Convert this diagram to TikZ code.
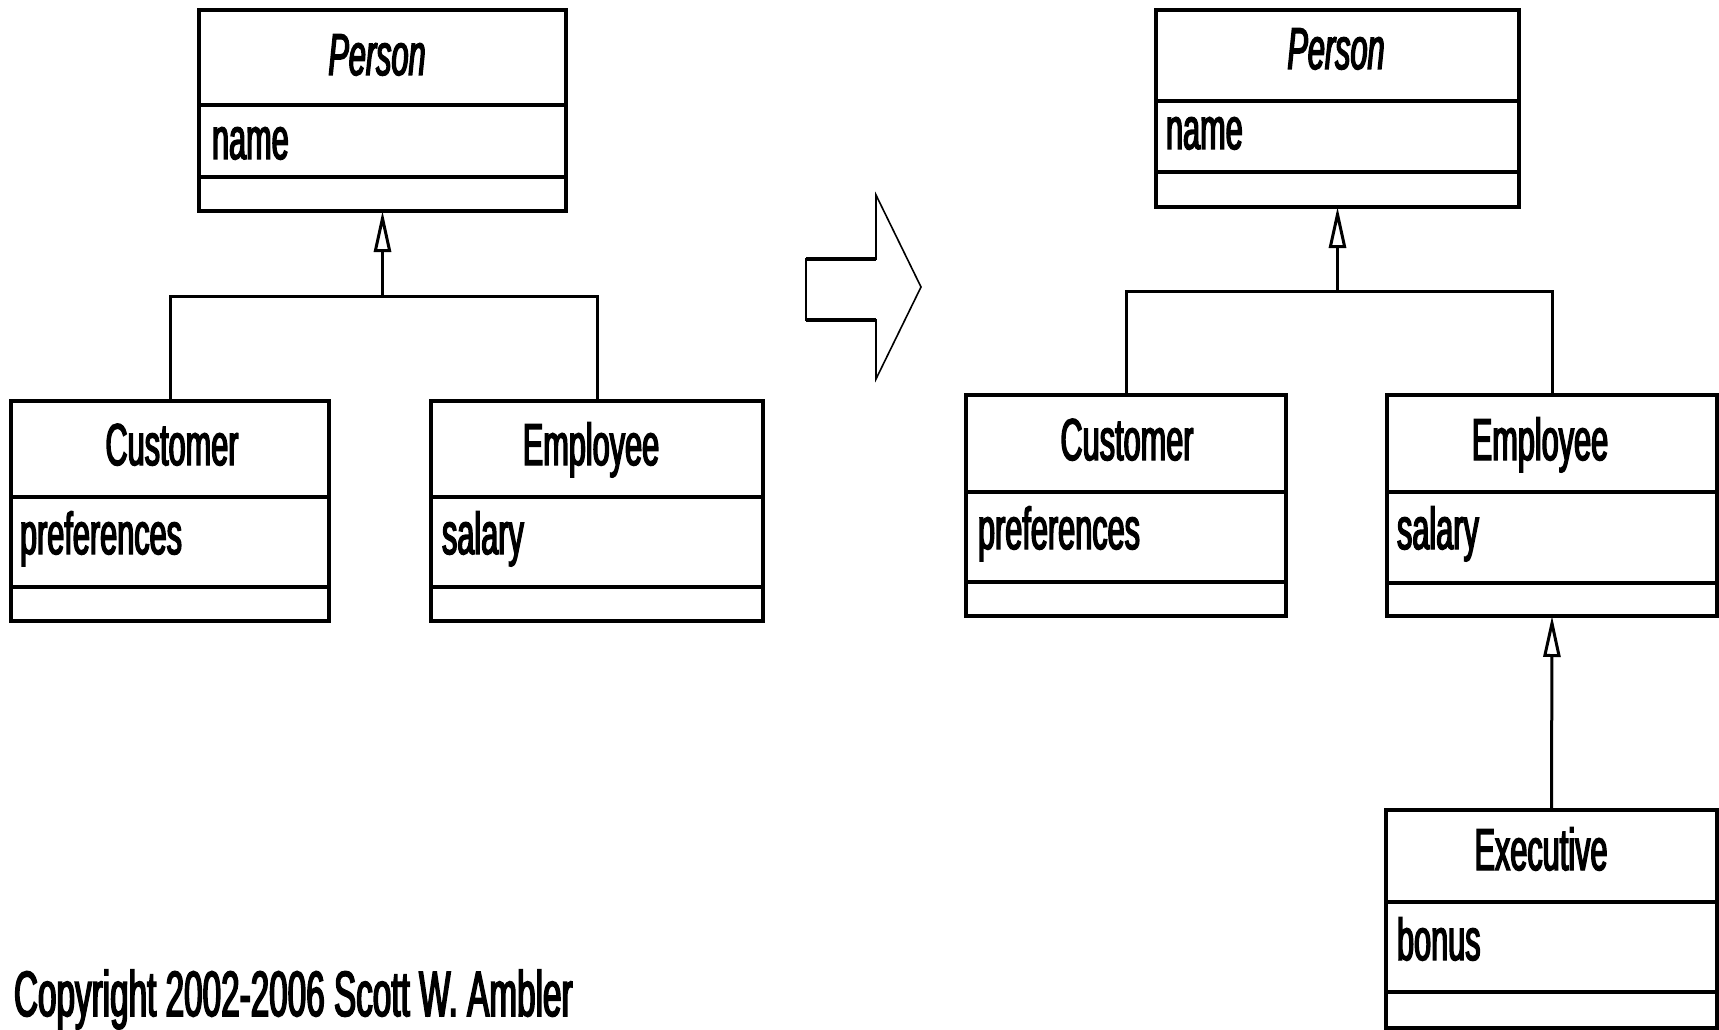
\documentclass[tikz,border=0pt]{standalone}
\usepackage{fontspec}
\newfontfamily\umlfont[FakeStretch=0.52, FakeBold=2.5]{Liberation Sans}
\newfontfamily\copyfont[FakeStretch=0.52, FakeBold=2.5]{Liberation Sans}
\usetikzlibrary{arrows.meta}
\newcommand\umlclassbox[7]{%
  \node[classbox, minimum width=#4pt-#2pt, minimum height=#5pt-#3pt] (#1) at (#2,#3) {};
  \draw[boxline] (#2,#6) -- (#4,#6);
  \draw[boxline] (#2,#7) -- (#4,#7);
}
\begin{document}
\begin{tikzpicture}[x=1pt,y=-1pt,
  boxline/.style={line width=3.8pt},
  classbox/.style={draw, line width=3.8pt, inner sep=0pt, outer sep=0pt, anchor=north west},
  conn/.style={line width=3pt},
  gen/.style={line width=3pt, -{Triangle[open, length=41pt, width=17pt]}},
  umltitle/.style={inner sep=0pt, outer sep=0pt, anchor=base, font=\umlfont\fontsize{59}{60}\selectfont},
  umlattr/.style={inner sep=0pt, outer sep=0pt, anchor=base west, font=\umlfont\fontsize{59}{60}\selectfont}]
\useasboundingbox (0,0) rectangle (1719,1030);

% left diagram
\umlclassbox{lperson}{199}{10}{566}{211}{105}{177}
\umlclassbox{lcust}{11}{401}{329}{621}{497}{587}
\umlclassbox{lemp}{431}{401}{763}{621}{497}{587}
\node[umltitle] (lpersonT) at (377,75) {\itshape Person};
\node[umlattr] (lpersonA) at (212,159) {name};
\node[umltitle] (lcustT) at (172,465) {Customer};
\node[umlattr] (lcustA) at (20,554) {preferences};
\node[umltitle] (lempT) at (591,465) {Employee};
\node[umlattr] (lempA) at (442,554) {salary};
\coordinate (lj) at (382.5,296);
\draw[conn] (lcust.north) |- (lj) -| (lemp.north);
\draw[gen] (lj) -- (lperson.south);

% big hollow arrow
\draw[line width=1.6pt, line join=miter] (806,259) -- (876,259) -- (876,195) -- (921,287) -- (876,379) -- (876,320) -- (806,320) -- cycle;
\draw[line width=4pt] (806,259) -- (876,259) (806,320) -- (876,320);
\draw[line width=2.8pt] (806,259) -- (806,320) (876,259) -- (876,195) (876,320) -- (876,379);

% right diagram
\umlclassbox{rperson}{1156}{10}{1519}{207}{101}{172}
\umlclassbox{rcust}{966}{395}{1286}{616}{492}{582}
\umlclassbox{remp}{1387}{395}{1717}{616}{492}{583}
\umlclassbox{rexec}{1386}{810}{1717}{1028}{902}{992}
\node[umltitle] (rpersonT) at (1336,69) {\itshape Person};
\node[umlattr] (rpersonA) at (1166,149) {name};
\node[umltitle] (rcustT) at (1127,460) {Customer};
\node[umlattr] (rcustA) at (978,549) {preferences};
\node[umltitle] (rempT) at (1540,460) {Employee};
\node[umlattr] (rempA) at (1397,549) {salary};
\node[umltitle] (rexecT) at (1541,870) {Executive};
\node[umlattr] (rexecA) at (1397,960) {bonus};
\coordinate (rj) at (1337.5,291);
\draw[conn] (rcust.north) |- (rj) -| (remp.north);
\draw[gen] (rj) -- (rperson.south);
\draw[gen] (rexec.north) -- (remp.south);

\node[umlattr, font=\copyfont\fontsize{64}{66}\selectfont] (copy) at (14,1016) {Copyright 2002-2006 Scott W. Ambler};
\end{tikzpicture}
\end{document}
